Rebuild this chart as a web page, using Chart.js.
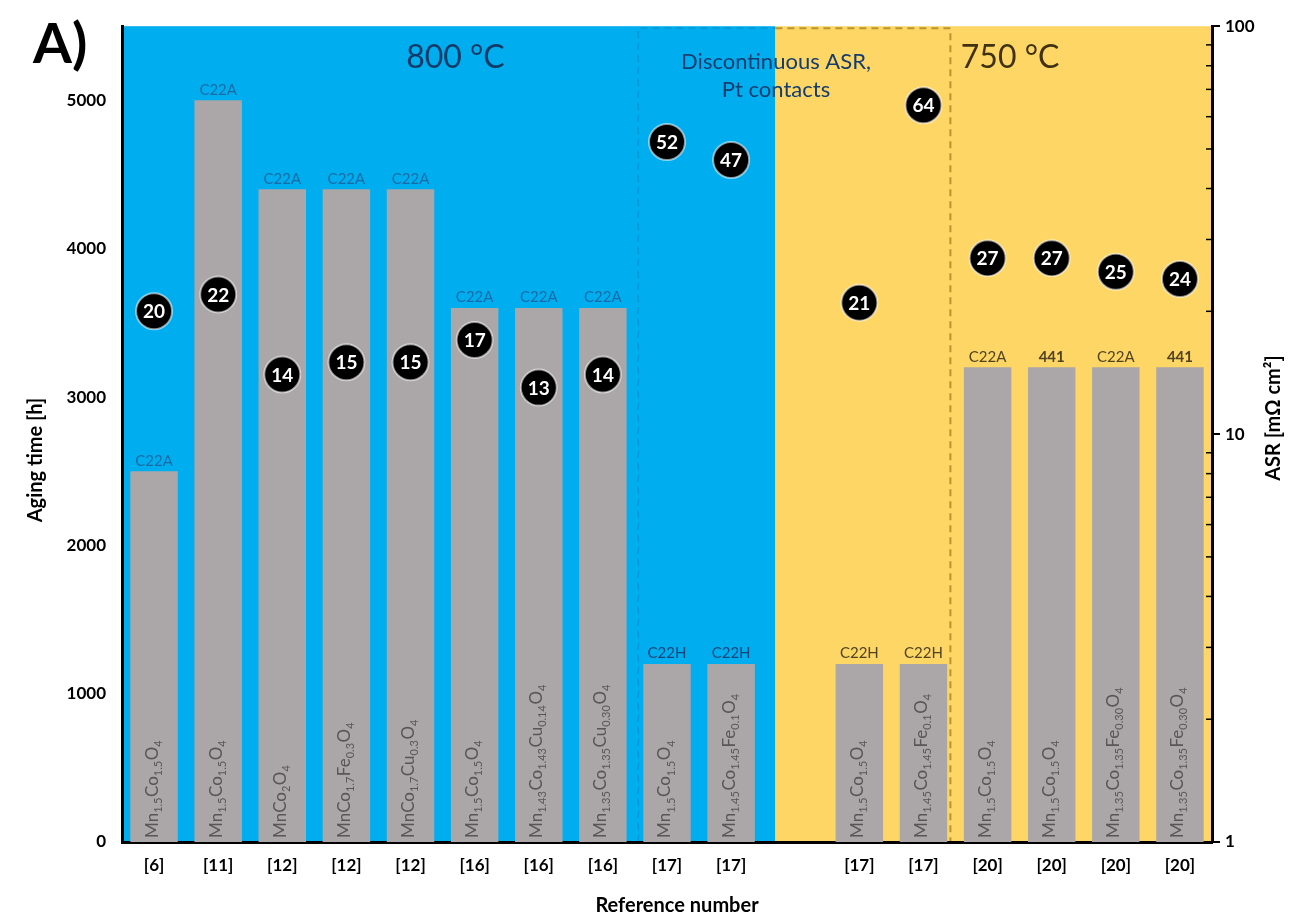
<!DOCTYPE html>
<html>
<head>
<meta charset="utf-8">
<script src="https://cdn.jsdelivr.net/npm/chart.js@4.4.1/dist/chart.umd.min.js"></script>
<style>
  html, body { margin: 0; background: #fff; }
  #c { display: block; }
</style>
</head>
<body>
<canvas id="c" width="1291" height="922"></canvas>
<script>
// Aging time (bars, left axis) and ASR (dots, right log axis) per literature reference.
const refs      = ['[6]', '[11]', '[12]', '[12]', '[12]', '[16]', '[16]', '[16]', '[17]', '[17]', '',
                   '[17]', '[17]', '[20]', '[20]', '[20]', '[20]'];
const agingHours = [2500, 5000, 4400, 4400, 4400, 3600, 3600, 3600, 1200, 1200, null,
                    1200, 1200, 3200, 3200, 3200, 3200];
const asrValues = [20, 22, 14, 15, 15, 17, 13, 14, 52, 47, null, 21, 64, 27, 27, 25, 24];
const steels    = ['C22A', 'C22A', 'C22A', 'C22A', 'C22A', 'C22A', 'C22A', 'C22A', 'C22H', 'C22H', '',
                   'C22H', 'C22H', 'C22A', '441', 'C22A', '441'];
const coatings  = ['Mn1.5Co1.5O4', 'Mn1.5Co1.5O4', 'MnCo2O4', 'MnCo1.7Fe0.3O4', 'MnCo1.7Cu0.3O4',
                   'Mn1.5Co1.5O4', 'Mn1.43Co1.43Cu0.14O4', 'Mn1.35Co1.35Cu0.30O4', 'Mn1.5Co1.5O4',
                   'Mn1.45Co1.45Fe0.1O4', '', 'Mn1.5Co1.5O4', 'Mn1.45Co1.45Fe0.1O4', 'Mn1.5Co1.5O4',
                   'Mn1.5Co1.5O4', 'Mn1.35Co1.35Fe0.30O4', 'Mn1.35Co1.35Fe0.30O4'];
const hourTicks = [0, 1000, 2000, 3000, 4000, 5000];
const asrTicks  = [1, 10, 100];

// region borders in category units
const BLUE_END = 9.69, BOX_FROM = 7.55, BOX_TO = 12.42;

const FONT = 'Lato, "Open Sans", sans-serif';
const BLUE = '#00aeef', YELLOW = '#fed666';

function drawFormula(ctx, str, x, yBottom) {
  // rotated text with numeric subscripts, reading bottom to top
  const parts = str.match(/[A-Z][a-z]?[\d.]*/g) || [];
  ctx.save();
  ctx.translate(x, yBottom);
  ctx.rotate(-Math.PI / 2);
  ctx.fillStyle = '#5a5657';
  ctx.textBaseline = 'middle';
  ctx.textAlign = 'left';
  let cx = 0;
  parts.forEach(p => {
    const m = p.match(/^([A-Z][a-z]?)([\d.]*)$/);
    ctx.font = '17px ' + FONT;
    ctx.fillText(m[1], cx, -2);
    cx += ctx.measureText(m[1]).width;
    if (m[2]) {
      ctx.font = '11px ' + FONT;
      ctx.fillText(m[2], cx, 4);
      cx += ctx.measureText(m[2]).width + 0.5;
    }
  });
  ctx.restore();
}

const deco = {
  id: 'deco',
  beforeDraw(chart) {
    const { ctx, chartArea: a, scales: { x } } = chart;
    const blueEnd = x.getPixelForValue(BLUE_END);
    const boxL = x.getPixelForValue(BOX_FROM), boxR = x.getPixelForValue(BOX_TO);
    ctx.save();
    ctx.fillStyle = BLUE;
    ctx.fillRect(a.left, a.top, blueEnd - a.left, a.bottom - a.top);
    ctx.fillStyle = YELLOW;
    ctx.fillRect(blueEnd, a.top, a.right - blueEnd, a.bottom - a.top);

    // dashed box around the discontinuous-ASR group
    ctx.setLineDash([7, 5]);
    ctx.lineWidth = 2;
    ctx.strokeStyle = 'rgba(10,110,170,0.3)';
    ctx.beginPath();
    ctx.moveTo(boxL, a.bottom); ctx.lineTo(boxL, a.top + 2); ctx.lineTo(blueEnd, a.top + 2);
    ctx.stroke();
    ctx.strokeStyle = '#b8952e';
    ctx.beginPath();
    ctx.moveTo(blueEnd, a.top + 2); ctx.lineTo(boxR, a.top + 2); ctx.lineTo(boxR, a.bottom);
    ctx.stroke();
    ctx.setLineDash([]);

    // region titles
    ctx.textAlign = 'center';
    ctx.textBaseline = 'middle';
    ctx.font = '32px ' + FONT;
    ctx.fillStyle = '#0d3a66';
    ctx.fillText('800 °C', x.getPixelForValue(4.7), a.top + 31);
    ctx.fillStyle = '#3f3211';
    ctx.fillText('750 °C', x.getPixelForValue(13.35), a.top + 31);
    ctx.font = '22px ' + FONT;
    ctx.fillStyle = '#123d6e';
    const mid = x.getPixelForValue(9.7);
    ctx.fillText('Discontinuous ASR,', mid, a.top + 36);
    ctx.fillText('Pt contacts', mid, a.top + 64);

    // panel letter and axis titles
    ctx.fillStyle = '#000';
    ctx.textAlign = 'left';
    ctx.textBaseline = 'alphabetic';
    ctx.font = 'bold 56px ' + FONT;
    ctx.fillText('A)', 33, 63);
    ctx.font = 'bold 20px ' + FONT;
    ctx.textAlign = 'center';
    ctx.textBaseline = 'middle';
    ctx.fillText('Reference number', (a.left + a.right) / 2 + 10, 906);
    ctx.save();
    ctx.translate(36, 460);
    ctx.rotate(-Math.PI / 2);
    ctx.fillText('Aging time [h]', 0, 0);
    ctx.restore();
    ctx.save();
    ctx.translate(1274, 418);
    ctx.rotate(-Math.PI / 2);
    ctx.fillText('ASR [mΩ cm²]', 0, 0);
    ctx.restore();
    ctx.restore();
  },
  afterDatasetDraw(chart, args) {
    if (args.index !== 1) return;
    const { ctx, chartArea: a, scales: { x } } = chart;
    const blueEnd = x.getPixelForValue(BLUE_END);
    args.meta.data.forEach((bar, i) => {
      if (agingHours[i] == null) return;
      ctx.save();
      ctx.textAlign = 'center';
      ctx.textBaseline = 'bottom';
      const onBlue = bar.x < blueEnd;
      const bold = steels[i] === '441';
      ctx.font = (bold ? 'bold ' : '') + '15px ' + FONT;
      ctx.fillStyle = onBlue ? (steels[i] === 'C22H' ? '#17457a' : '#1a6aa6') : '#4f4322';
      ctx.fillText(steels[i], bar.x, bar.y - 3);
      ctx.restore();
      drawFormula(ctx, coatings[i], bar.x, a.bottom - 4);
    });
  },
  afterDatasetsDraw(chart) {
    const { ctx } = chart;
    const meta = chart.getDatasetMeta(0);
    ctx.save();
    ctx.fillStyle = '#fff';
    ctx.textAlign = 'center';
    ctx.textBaseline = 'middle';
    ctx.font = 'bold 19px ' + FONT;
    meta.data.forEach((pt, i) => {
      if (asrValues[i] == null) return;
      ctx.fillText(String(asrValues[i]), pt.x, pt.y + 1);
    });
    ctx.restore();
  },
  afterDraw(chart) {
    // minor log ticks on the inner side of the right axis
    const { ctx, chartArea: a, scales: { asr } } = chart;
    ctx.save();
    ctx.strokeStyle = '#000';
    ctx.lineWidth = 1.5;
    [2, 3, 4, 5, 6, 7, 8, 9, 20, 30, 40, 50, 60, 70, 80, 90].forEach(v => {
      const y = asr.getPixelForValue(v);
      ctx.beginPath();
      ctx.moveTo(a.right - 6, y);
      ctx.lineTo(a.right, y);
      ctx.stroke();
    });
    ctx.restore();
  }
};

const tickFont = { family: FONT, weight: 'bold', size: 17 };

new Chart(document.getElementById('c'), {
  data: {
    labels: refs,
    datasets: [
      {
        type: 'line', data: asrValues, yAxisID: 'asr', showLine: false, order: 0,
        pointRadius: 18, pointHoverRadius: 18,
        pointBackgroundColor: '#000', pointBorderColor: 'rgba(255,255,255,0.55)', pointBorderWidth: 2
      },
      {
        type: 'bar', data: agingHours, yAxisID: 'hours', order: 1,
        backgroundColor: '#aba6a8', barPercentage: 0.74, categoryPercentage: 1
      }
    ]
  },
  options: {
    responsive: false,
    animation: false,
    layout: { padding: { top: 24, left: 0, right: 0, bottom: 0 } },
    plugins: { legend: { display: false }, tooltip: { enabled: false } },
    scales: {
      x: {
        grid: { display: false, drawTicks: false },
        border: { display: true, color: '#000', width: 3 },
        ticks: { color: '#000', font: tickFont, padding: 13, maxRotation: 0, autoSkip: false },
        afterFit(s) { s.height = 80; }
      },
      hours: {
        position: 'left', min: 0, max: 5500,
        afterBuildTicks(s) { s.ticks = hourTicks.map(v => ({ value: v })); },
        grid: { display: false, drawTicks: false },
        border: { display: true, color: '#000', width: 3 },
        ticks: { color: '#000', font: tickFont, padding: 16, callback: v => String(v) },
        afterFit(s) { s.width = 122; }
      },
      asr: {
        type: 'logarithmic', position: 'right', min: 1, max: 100,
        afterBuildTicks(s) { s.ticks = asrTicks.map(v => ({ value: v, major: true })); },
        grid: { display: true, drawOnChartArea: false, drawTicks: true, tickLength: 8,
                color: '#000', lineWidth: 2 },
        border: { display: true, color: '#000', width: 3 },
        ticks: { color: '#000', font: tickFont, padding: 5, callback: v => String(v) },
        afterFit(s) { s.width = 79; }
      }
    }
  },
  plugins: [deco]
});
</script>
</body>
</html>
